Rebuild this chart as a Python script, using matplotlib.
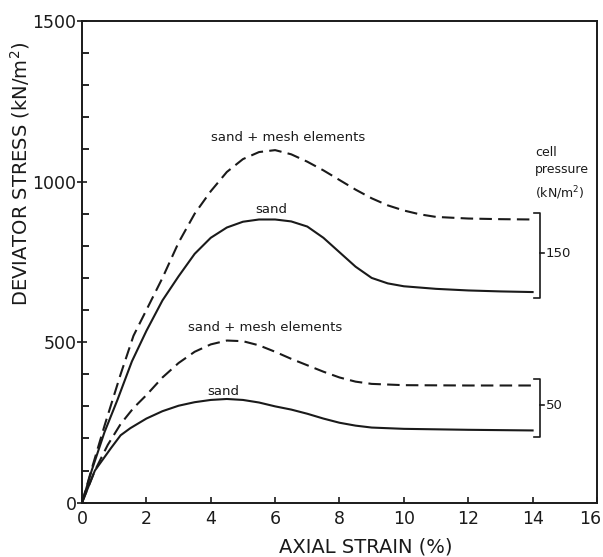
import matplotlib
matplotlib.use("Agg")
import matplotlib.pyplot as plt
from matplotlib.ticker import MultipleLocator
from matplotlib.transforms import ScaledTranslation

# axial strain (%) vs deviator stress (kN/m2)
strain_150_sand = [0, 0.3, 0.7, 1.1, 1.55, 2.0, 2.5, 3.0, 3.5, 4.0, 4.5, 5.0, 5.5, 6.0,
                   6.5, 7.0, 7.5, 8.0, 8.5, 9.0, 9.5, 10, 11, 12, 13, 14]
stress_150_sand = [0, 100, 220, 320, 440, 535, 630, 705, 775, 825, 857, 875, 882, 882,
                   876, 860, 825, 780, 735, 700, 683, 674, 666, 661, 658, 656]

strain_150_mesh = [0, 0.3, 0.7, 1.2, 1.6, 2.0, 2.5, 3.0, 3.5, 4.0, 4.5, 5.0, 5.5, 6.0,
                   6.5, 7.0, 7.5, 8.0, 8.5, 9.0, 9.5, 10, 10.5, 11, 12, 13, 14]
stress_150_mesh = [0, 105, 240, 400, 520, 600, 700, 810, 900, 970, 1030, 1070, 1092, 1098,
                   1085, 1062, 1035, 1005, 975, 948, 926, 910, 898, 890, 885, 883, 882]

strain_50_sand = [0, 0.4, 0.9, 1.2, 1.5, 2.0, 2.5, 3.0, 3.5, 4.0, 4.5, 5.0, 5.5, 6.0,
                  6.5, 7.0, 7.5, 8.0, 8.5, 9.0, 10, 12, 14]
stress_50_sand = [0, 100, 170, 210, 232, 262, 285, 302, 313, 320, 323, 320, 312, 300,
                  290, 277, 262, 249, 240, 234, 230, 227, 225]

strain_50_mesh = [0, 0.4, 0.8, 1.2, 1.6, 2.0, 2.5, 3.0, 3.5, 4.0, 4.5, 5.0, 5.5, 6.0,
                  6.5, 7.0, 7.5, 8.0, 8.5, 9.0, 10, 12, 14]
stress_50_mesh = [0, 100, 180, 245, 295, 335, 390, 435, 470, 493, 505, 503, 490, 470,
                  448, 428, 408, 390, 377, 370, 366, 365, 365]

cell_pressures = ["150", "50"]
x_ticks = [0, 2, 4, 6, 8, 10, 12, 14, 16]

ink = "#1a1a1a"
plt.rcParams["font.family"] = ["DejaVu Sans"]

fig = plt.figure(figsize=(6.03, 5.57), dpi=100)
ax = fig.add_axes([0.136, 0.0975, 0.854, 0.8647])

solid = dict(color=ink, lw=1.5)
dashed = dict(color=ink, lw=1.5, dashes=(6, 3))
ax.plot(strain_150_mesh, stress_150_mesh, **dashed)
ax.plot(strain_150_sand, stress_150_sand, **solid)
ax.plot(strain_50_mesh, stress_50_mesh, **dashed)
ax.plot(strain_50_sand, stress_50_sand, **solid)

ax.text(6.4, 1138, "sand + mesh elements", fontsize=9.5, ha="center", va="center", color=ink)
ax.text(5.87, 913, "sand", fontsize=9.5, ha="center", va="center", color=ink)
ax.text(5.68, 545, "sand + mesh elements", fontsize=9.5, ha="center", va="center", color=ink)
ax.text(4.38, 345, "sand", fontsize=9.5, ha="center", va="center", color=ink)

# brackets grouping each cell pressure
groups = [(stress_150_mesh[-1], stress_150_sand[-1]), (stress_50_mesh[-1], stress_50_sand[-1])]
xb = 14.22
for label, (hi, lo) in zip(cell_pressures, groups):
    top, bot = hi + 20, lo - 20
    mid = (top + bot) / 2 + 8
    ax.plot([14.05, xb, xb, 14.05], [top, top, bot, bot], color=ink, lw=1.2)
    ax.plot([xb, 14.36], [mid, mid], color=ink, lw=1.2)
    ax.text(14.4, mid, label, fontsize=9.5, ha="left", va="center", color=ink)

ax.text(14.07, 1092, "cell", fontsize=9, ha="left", va="center", color=ink)
ax.text(14.07, 1038, "pressure", fontsize=9, ha="left", va="center", color=ink)
ax.text(14.07, 965, "(kN/m$^2$)", fontsize=9, ha="left", va="center", color=ink)

ax.set_xlim(0, 16)
ax.set_ylim(0, 1500)
ax.set_xticks(x_ticks)
ax.yaxis.set_major_locator(MultipleLocator(500))
ax.yaxis.set_minor_locator(MultipleLocator(100))
ax.tick_params(axis="x", which="major", direction="in", length=4.5, width=1.2,
               labelsize=12.5, pad=5, colors=ink)
ax.tick_params(axis="y", which="major", direction="inout", length=7, width=1.2,
               labelsize=12.5, pad=0.5, colors=ink)
ax.tick_params(axis="y", which="minor", direction="in", length=5, width=1.2)
for sp in ax.spines.values():
    sp.set_linewidth(1.4)
    sp.set_color(ink)

# nudge the "16" label inward so it stays on the canvas
fig.canvas.draw()
for lab in ax.get_xticklabels():
    if lab.get_text() == "16":
        lab.set_transform(lab.get_transform() + ScaledTranslation(-7 / 100, 0, fig.dpi_scale_trans))

fig.text(0.607, 0.018, "AXIAL STRAIN (%)", fontsize=14, ha="center", va="center", color=ink)
fig.text(0.033, 0.688, "DEVIATOR STRESS (kN/m$^2$)", fontsize=14, rotation=90,
         ha="center", va="center", color=ink)

fig.savefig("out.png", dpi=100, facecolor="white")
